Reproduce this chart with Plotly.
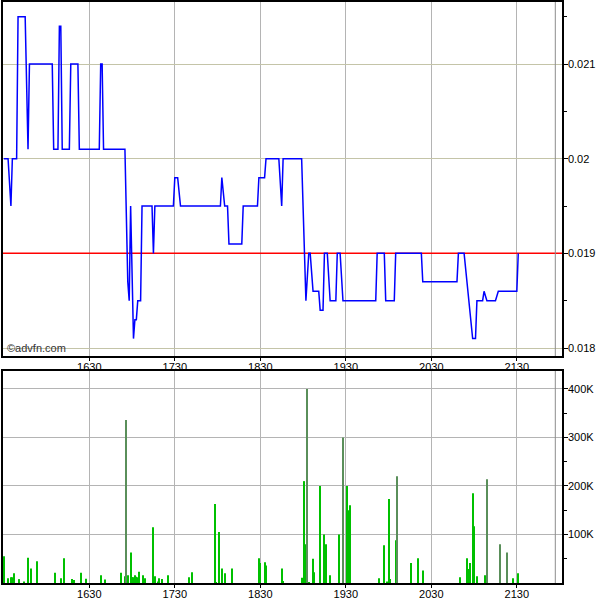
import plotly.graph_objects as go

# ---- data (minutes after 15:30) ----
price_times = [0, 3, 5, 6, 9, 10, 15, 17, 18, 34, 35, 38, 39, 40, 41, 46, 47, 52, 53, 67, 68, 69, 70,
               85, 87, 88, 89, 91, 92, 93, 94, 96, 97, 104, 105, 106, 119, 120, 122, 124, 152, 153,
               155, 157, 158, 167, 168, 178, 179, 183, 184, 193, 195, 196, 209, 212, 214, 215, 217,
               221, 222, 224, 225, 227, 229, 233, 234, 236, 238, 261, 262, 267, 268, 274, 275, 293,
               294, 318, 319, 323, 325, 329, 331, 332, 336, 337, 339, 345, 347, 360, 361]
prices = [0.0200, 0.0200, 0.0195, 0.0200, 0.0200, 0.0215, 0.0215, 0.0201, 0.0210, 0.0210, 0.0201,
          0.0201, 0.0214, 0.0214, 0.0201, 0.0201, 0.0210, 0.0210, 0.0201, 0.0201, 0.0210, 0.0210,
          0.0201, 0.0201, 0.0187, 0.0185, 0.0195, 0.0181, 0.0183, 0.0183, 0.0185, 0.0185, 0.0195,
          0.0195, 0.0190, 0.0195, 0.0195, 0.0198, 0.0198, 0.0195, 0.0195, 0.0198, 0.0195, 0.0195,
          0.0191, 0.0191, 0.0195, 0.0195, 0.0198, 0.0198, 0.0200, 0.0200, 0.0195, 0.0200, 0.0200,
          0.0185, 0.0190, 0.0190, 0.0186, 0.0186, 0.0184, 0.0184, 0.0190, 0.0190, 0.0185, 0.0185,
          0.0190, 0.0190, 0.0185, 0.0185, 0.0190, 0.0190, 0.0185, 0.0185, 0.0190, 0.0190, 0.0187,
          0.0187, 0.0190, 0.0190, 0.0187, 0.0181, 0.0181, 0.0185, 0.0185, 0.0186, 0.0185, 0.0185,
          0.0186, 0.0186, 0.0190]

vol_times = [0, 3, 5, 6, 7, 11, 14, 17, 19, 23, 36, 40, 42, 48, 49, 54, 58, 68, 71, 82, 85, 86, 87,
             89, 90, 91, 92, 93, 94, 95, 98, 99, 105, 106, 108, 109, 111, 115, 130, 132, 148, 149,
             151, 153, 155, 160, 179, 180, 183, 184, 195, 196, 209, 211, 212, 213, 214, 217, 218,
             222, 225, 226, 229, 235, 238, 241, 242, 243, 263, 267, 269, 270, 271, 275, 276, 286,
             291, 294, 320, 325, 326, 327, 329, 330, 332, 338, 339, 348, 353, 357, 361]
vol_k = [55, 10, 12, 12, 20, 8, 3, 52, 30, 45, 21, 10, 51, 8, 6, 21, 9, 16, 7, 21, 14, 336, 16,
         63, 12, 12, 16, 13, 12, 23, 16, 10, 115, 14, 3, 10, 8, 16, 12, 22, 163, 2,
         105, 30, 20, 30, 51, 41, 43, 36, 30, 4, 11, 210, 80, 400, 2, 50, 22,
         200, 100, 80, 16, 100, 300, 200, 150, 160, 10, 78, 3, 173, 8, 88, 220, 41,
         51, 26, 12, 51, 29, 41, 185, 117, 14, 16, 214, 80, 63, 10, 20]
# bars drawn in the darker (unclassified trade) tone
unclassified_times = [86, 213, 238, 276, 339, 348, 353]

tick_times = [60, 120, 180, 240, 300, 360]
tick_labels = ["1630", "1730", "1830", "1930", "2030", "2130"]
price_ticks = [0.018, 0.019, 0.02, 0.021]
price_tick_labels = ["0.018", "0.019", "0.02", "0.021"]
vol_ticks = [100000, 200000, 300000, 400000]
vol_tick_labels = ["100K", "200K", "300K", "400K"]
prev_close = 0.019
day_end = 387

x_range = [-0.56, 391.7]
FONT = "Liberation Sans"

bar_colors = ["#5a8f5a" if t in unclassified_times else "#00c000" for t in vol_times]

fig = go.Figure()
# previous close reference line (under the price line)
fig.add_trace(go.Scatter(x=x_range, y=[prev_close, prev_close], mode="lines",
                         line=dict(color="#ff0000", width=1.5),
                         xaxis="x", yaxis="y", hoverinfo="skip"))
fig.add_trace(go.Scatter(x=price_times, y=prices, mode="lines",
                         line=dict(color="#0000ff", width=1.5),
                         xaxis="x", yaxis="y", hoverinfo="skip"))
fig.add_trace(go.Bar(x=vol_times, y=[v * 1000 for v in vol_k], width=0.75,
                     marker=dict(color=bar_colors, line=dict(width=0)),
                     xaxis="x2", yaxis="y2", hoverinfo="skip"))

xcommon = dict(range=x_range, tickvals=tick_times, ticktext=tick_labels, ticks="outside",
               ticklen=3, tickcolor="black", showgrid=True, gridcolor="#b4b4b4", gridwidth=1,
               showline=True, linecolor="black", linewidth=1.5, mirror=True, zeroline=False,
               automargin=False, ticklabelstandoff=-3,
               tickfont=dict(family=FONT, size=11, color="black"), domain=[0, 1])

fig.update_layout(
    width=600, height=600,
    margin=dict(l=3, r=38, t=2, b=17, autoexpand=False),
    paper_bgcolor="white", plot_bgcolor="white",
    showlegend=False,
    xaxis=dict(anchor="y", **xcommon),
    xaxis2=dict(anchor="y2", **xcommon),
    yaxis=dict(domain=[0.3907, 1], range=[0.017916, 0.021655], side="right", anchor="x",
               tickvals=price_ticks, ticktext=price_tick_labels, ticks="outside", ticklen=4,
               tickcolor="black", showgrid=True, gridcolor="#c4c4a8", gridwidth=1,
               showline=True, linecolor="black", linewidth=1.5, mirror=True, zeroline=False,
               automargin=False, ticklabelstandoff=-2,
               tickfont=dict(family=FONT, size=11, color="black"),
               minor=dict(tickvals=[0.0185, 0.0195, 0.0205, 0.0215], ticks="outside",
                          ticklen=3, tickcolor="black", showgrid=False)),
    yaxis2=dict(domain=[0, 0.3649], range=[0, 437000], side="right", anchor="x2",
                tickvals=vol_ticks, ticktext=vol_tick_labels, ticks="outside", ticklen=4,
                tickcolor="black", showgrid=True, gridcolor="#b4b4b4", gridwidth=1,
                showline=True, linecolor="black", linewidth=1.5, mirror=True, zeroline=False,
                automargin=False, ticklabelstandoff=-2,
                tickfont=dict(family=FONT, size=11, color="black"),
                minor=dict(tickvals=[50000, 150000, 250000, 350000], ticks="outside",
                           ticklen=3, tickcolor="black", showgrid=False)),
    shapes=[
        dict(type="line", xref="x", yref="paper", x0=day_end, x1=day_end, y0=0.3907, y1=1,
             line=dict(color="#8c8c8c", width=1)),
        dict(type="line", xref="x2", yref="paper", x0=day_end, x1=day_end, y0=0, y1=0.3649,
             line=dict(color="#8c8c8c", width=1)),
    ],
    annotations=[
        dict(text="©advfn.com", xref="paper", yref="y", x=0.004, y=0.018,
             xanchor="left", yanchor="middle", showarrow=False,
             font=dict(family=FONT, size=11, color="#333333")),
    ],
)

fig.write_html("out.html", config={"displayModeBar": False},
               post_script="document.body.style.margin='0';document.body.style.padding='0';"
                           "document.documentElement.style.overflow='hidden';")
